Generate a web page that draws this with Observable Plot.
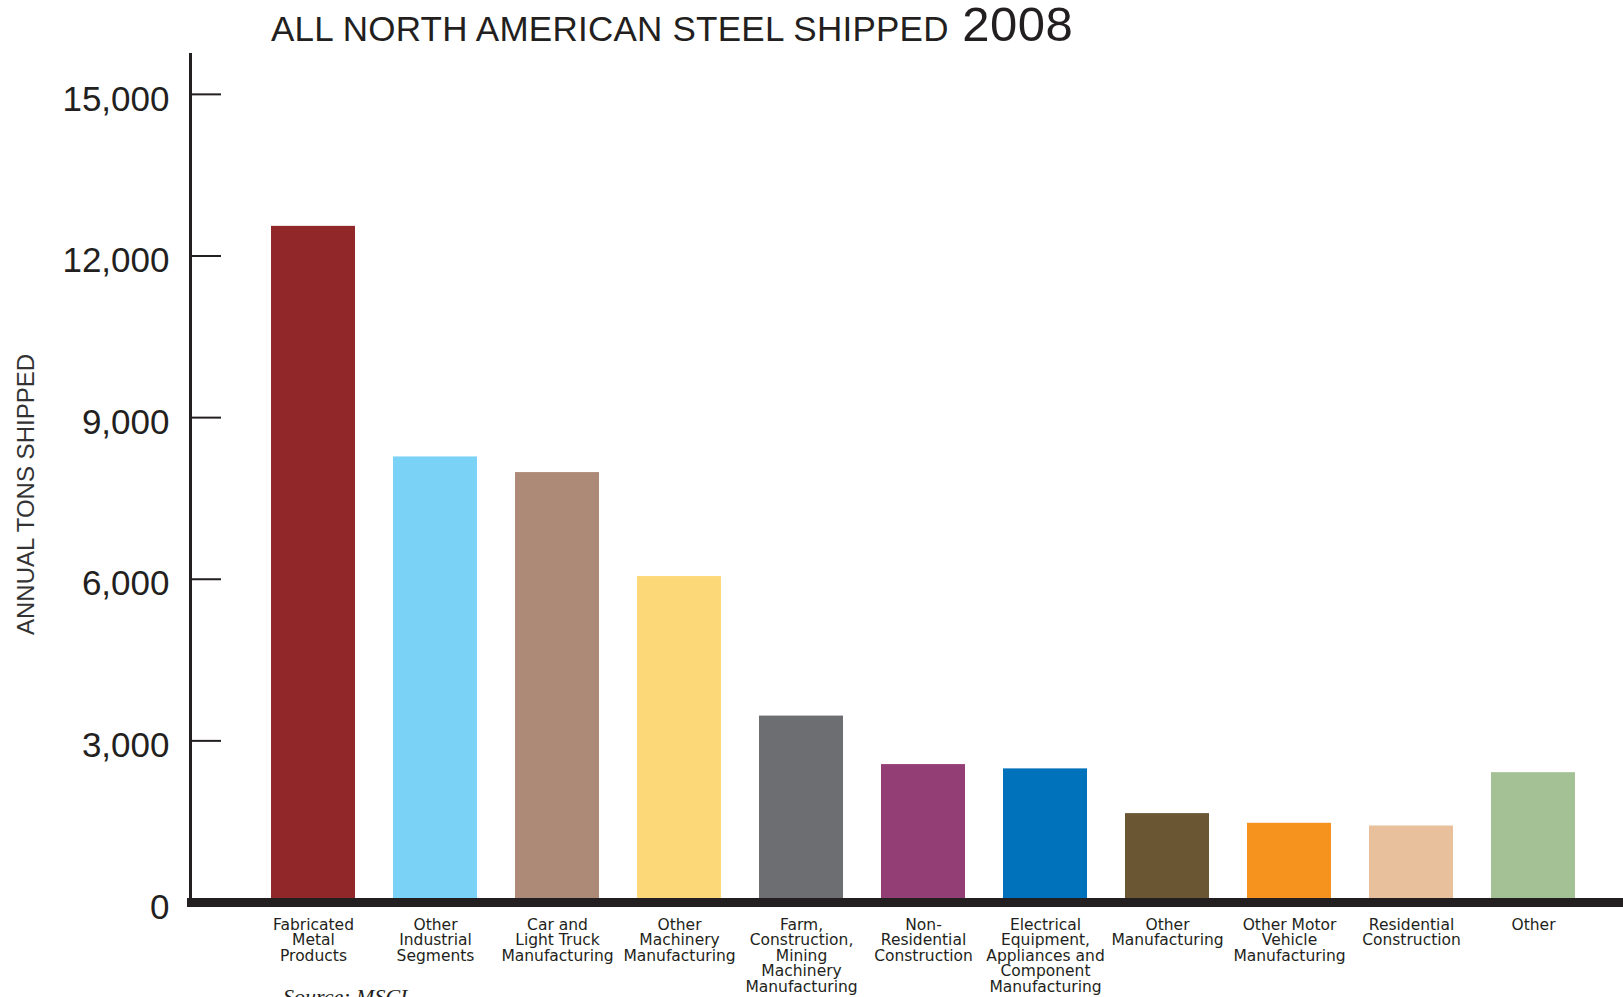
<!DOCTYPE html>
<html>
<head>
<meta charset="utf-8">
<script src="https://cdn.jsdelivr.net/npm/d3@7"></script>
<script src="https://cdn.jsdelivr.net/npm/@observablehq/plot@0.6"></script>
<style>
  html, body { margin: 0; padding: 0; background: #fff; overflow: hidden; }
  #wrap { position: relative; width: 1623px; height: 997px; }
  #title { position: absolute; left: 271px; top: 0; font-family: "Liberation Sans", Arial, sans-serif; font-size: 49px; line-height: 49px; color: #231f20; white-space: nowrap; }
  #title .main { font-size: 35px; letter-spacing: 0.25px; }
  #title .year { letter-spacing: 0.5px; }
  #source { position: absolute; left: 283px; top: 986px; font-family: "Liberation Serif", serif; font-style: italic; font-size: 22px; line-height: 22px; color: #231f20; white-space: nowrap; }
  #chart svg { display: block; overflow: visible; }
</style>
</head>
<body>
<div id="wrap">
  <div id="chart"></div>
  <div id="title"><span class="main">ALL NORTH AMERICAN STEEL SHIPPED</span> <span class="year">2008</span></div>
  <div id="source">Source: MSCI</div>
</div>
<script>
const categories = [
  "Fabricated Metal Products",
  "Other Industrial Segments",
  "Car and Light Truck Manufacturing",
  "Other Machinery Manufacturing",
  "Farm, Construction, Mining Machinery Manufacturing",
  "Non-Residential Construction",
  "Electrical Equipment, Appliances and Component Manufacturing",
  "Other Manufacturing",
  "Other Motor Vehicle Manufacturing",
  "Residential Construction",
  "Other"
];
const tickLabels = [
  "Fabricated\nMetal\nProducts",
  "Other\nIndustrial\nSegments",
  "Car and\nLight Truck\nManufacturing",
  "Other\nMachinery\nManufacturing",
  "Farm,\nConstruction,\nMining\nMachinery\nManufacturing",
  "Non-\nResidential\nConstruction",
  "Electrical\nEquipment,\nAppliances and\nComponent\nManufacturing",
  "Other\nManufacturing",
  "Other Motor\nVehicle\nManufacturing",
  "Residential\nConstruction",
  "Other"
];
const tons = [12550, 8270, 7980, 6050, 3460, 2560, 2480, 1650, 1470, 1420, 2410];
const colors = ["#92272a", "#7ad3f6", "#ad8a77", "#fdd879", "#6d6e71", "#933f76", "#0071bb", "#6b5634", "#f6931f", "#e8c09c", "#a4c196"];
const yTicks = [0, 3000, 6000, 9000, 12000, 15000];
const yLabel = "ANNUAL TONS SHIPPED";

const data = categories.map((c, i) => ({category: c, tons: tons[i]}));
const ink = "#231f20";

const chart = Plot.plot({
  width: 1623,
  height: 997,
  marginLeft: 190,
  marginRight: 0,
  marginTop: 54,
  marginBottom: 95,
  x: {domain: categories, paddingInner: 0.31, paddingOuter: 0.523, align: 0.626},
  y: {domain: [0, 15740]},
  color: {domain: categories, range: colors},
  marks: [
    Plot.barY(data, {x: "category", y: "tons", fill: "category"}),
    Plot.frame({anchor: "left", stroke: ink, strokeWidth: 3}),
    Plot.ruleY(yTicks, {stroke: ink, strokeWidth: 2, insetRight: 1433 - 31}),
    Plot.ruleY([0], {stroke: ink, strokeWidth: 9, insetLeft: -3}),
    Plot.axisY(yTicks, {tickSize: 0, tickPadding: 21, dy: 5, fontSize: 35, fontFamily: "Liberation Sans", fill: ink, label: null, tickFormat: d3.format(","), style: {letterSpacing: "1px"}}),
    Plot.axisX({tickSize: 0, tickPadding: 16, fontSize: 15.5, lineHeight: 1, fontFamily: "DejaVu Sans", fill: ink, label: null,
      tickFormat: d => tickLabels[categories.indexOf(d)]}),
    Plot.text([yLabel], {frameAnchor: "left", textAnchor: "middle", rotate: -90, dx: -164, dy: 16, fontSize: 24, fontFamily: "Liberation Sans", fill: "#333"})
  ]
});
document.getElementById("chart").appendChild(chart);
</script>
</body>
</html>
